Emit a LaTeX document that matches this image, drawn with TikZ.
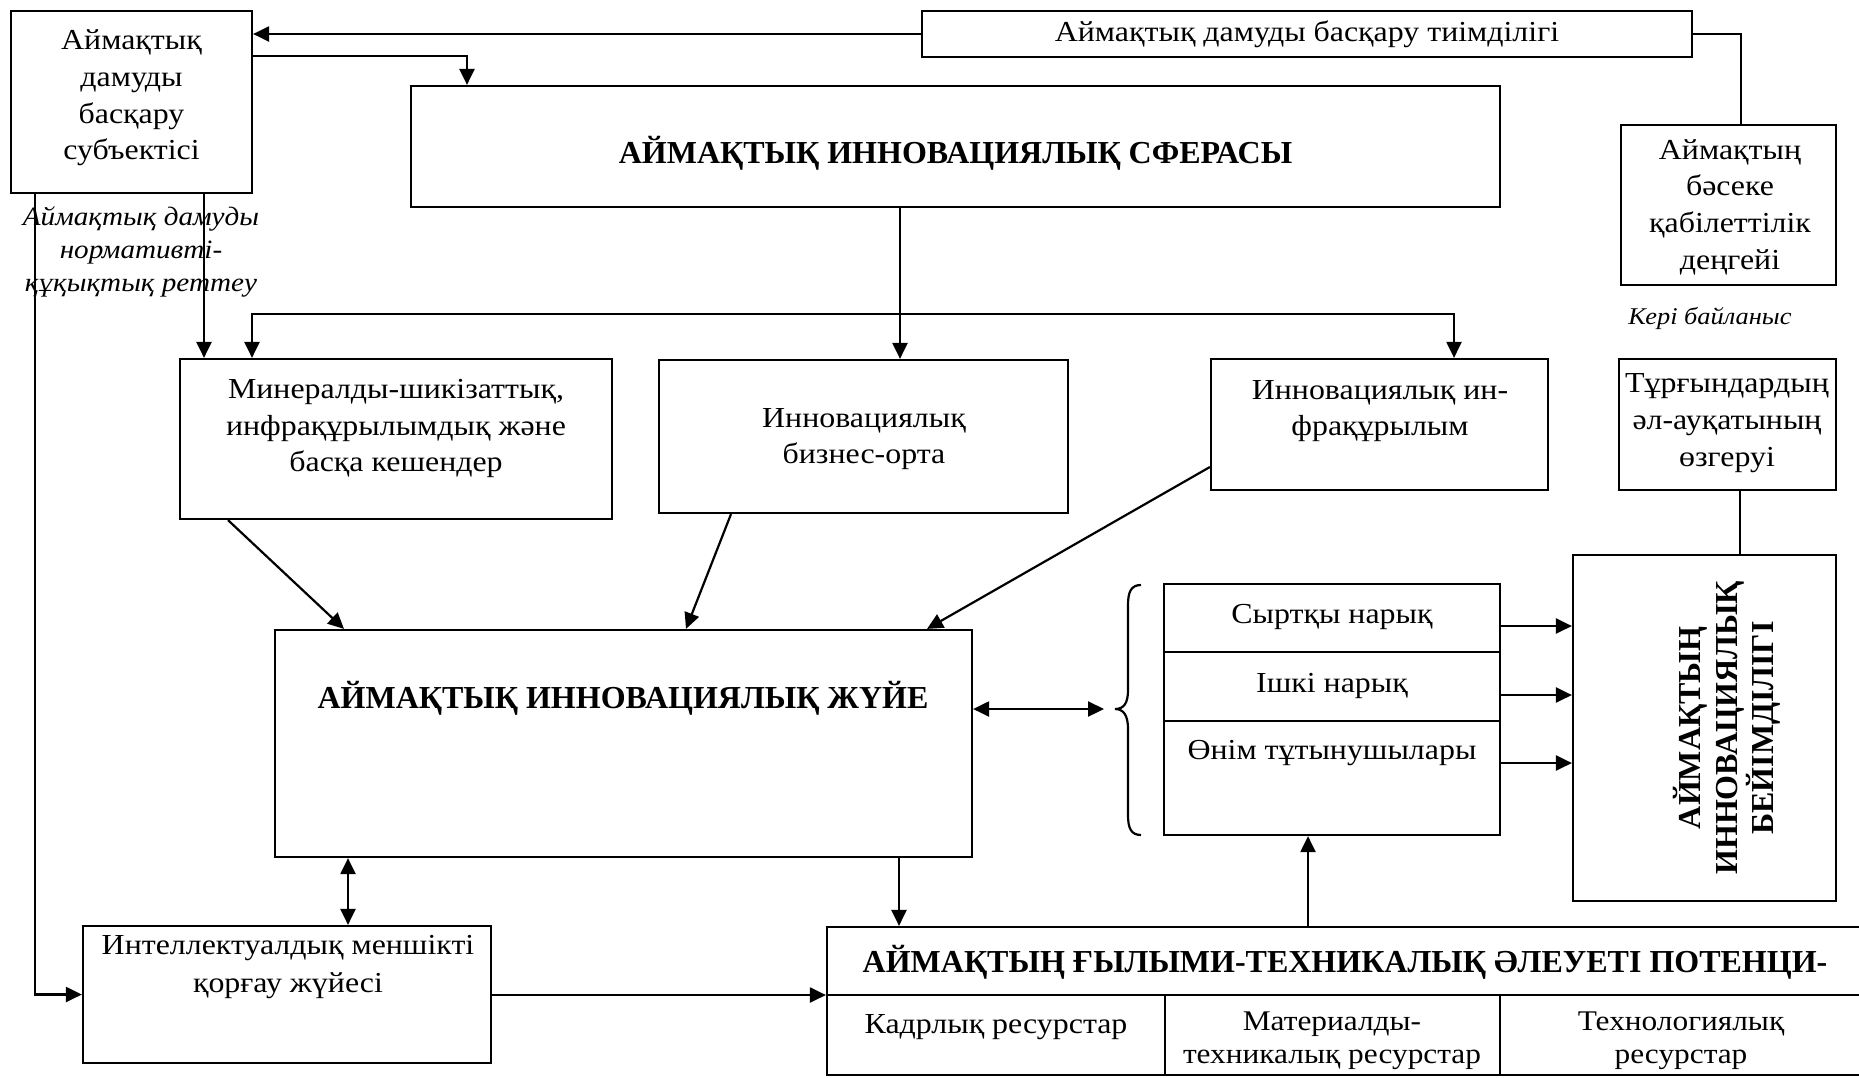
\documentclass[tikz,border=0pt]{standalone}
\usepackage{fontspec}
\setmainfont{Liberation Serif}[FakeStretch=1.1]
\newfontfamily\headf{Liberation Serif}[FakeStretch=1.0]
\usetikzlibrary{arrows.meta}
\tikzset{
  bx/.style={draw, line width=2.2pt, inner sep=0pt},
  con/.style={line width=2.2pt},
  tip/.tip={Triangle[length=16pt,width=15pt]},
  arr/.style={con, -tip},
  darr/.style={con, tip-tip},
  txt/.style={align=center, font=\fontsize{29}{36.7}\selectfont, inner sep=0pt},
  stxt/.style={align=center, font=\fontsize{28.5}{33}\selectfont, inner sep=0pt},
  htxt/.style={align=center, font=\headf\bfseries\fontsize{32}{36.7}\selectfont, inner sep=0pt},
  itxt/.style={align=center, font=\itshape\fontsize{26.5}{33}\selectfont, inner sep=0pt},
}
\begin{document}
\begin{tikzpicture}[x=1pt,y=-1pt]
\useasboundingbox[fill=white] (0,0) rectangle (1859,1077);
% boxes
\node[bx, minimum width=241pt, minimum height=182pt] (subj) at (131.5,102) {};
\node[bx, minimum width=770pt, minimum height=46pt] (eff) at (1307,34) {};
\node[bx, minimum width=1089pt, minimum height=121pt] (sphere) at (955.5,146.5) {};
\node[bx, minimum width=215pt, minimum height=160pt] (comp) at (1728.5,205) {};
\node[bx, minimum width=217pt, minimum height=131pt] (welf) at (1727.5,424.5) {};
\node[bx, minimum width=432pt, minimum height=160pt] (miner) at (396,439) {};
\node[bx, minimum width=409pt, minimum height=153pt] (bus) at (863.5,436.5) {};
\node[bx, minimum width=337pt, minimum height=131pt] (infra) at (1379.5,424.5) {};
\node[bx, minimum width=697pt, minimum height=227pt] (is) at (623.5,743.5) {};
\node[bx, minimum width=336pt, minimum height=251pt] (market) at (1332,709.5) {};
\node[bx, minimum width=263pt, minimum height=346pt] (ib) at (1704.5,728) {};
\node[bx, minimum width=408pt, minimum height=137pt] (ip) at (287,994.5) {};
\node[bx, minimum width=1040pt, minimum height=148pt] (pot) at (1347,1001) {};

% inner separators
\coordinate (h1) at (0,652);
\coordinate (h2) at (0,721);
\coordinate (h3) at (0,995);
\coordinate (v1) at (1165,0);
\coordinate (v2) at (1500,0);
\draw[con] (market.west |- h1) -- (market.east |- h1);
\draw[con] (market.west |- h2) -- (market.east |- h2);
\draw[con] (pot.west |- h3) -- (pot.east |- h3);
\draw[con] (v1 |- h3) -- (v1 |- pot.south);
\draw[con] (v2 |- h3) -- (v2 |- pot.south);

% texts
\node[txt] (t1) at (131.5,98) {Аймақтық\\дамуды\\басқару\\субъектісі};
\node[itxt] (t2) at (141,252) {Аймақтық дамуды\\нормативті-\\құқықтық реттеу};
\node[txt] (t3) at (1307,34) {Аймақтық дамуды басқару тиімділігі};
\node[htxt] (t4) at (955.5,153) {АЙМАҚТЫҚ ИННОВАЦИЯЛЫҚ СФЕРАСЫ};
\node[txt] (t5) at (1730,207) {Аймақтың\\бәсеке\\қабілеттілік\\деңгейі};
\node[itxt, font=\itshape\fontsize{24}{26}\selectfont] (t6) at (1710,318) {Кері байланыс};
\node[txt] (t7) at (1727,423) {Тұрғындардың\\әл-ауқатының\\өзгеруі};
\node[txt] (t8) at (396,428.5) {Минералды-шикізаттық,\\инфрақұрылымдық және\\басқа кешендер};
\node[txt] (t9) at (864,439) {Инновациялық\\бизнес-орта};
\node[txt] (t10) at (1380,411) {Инновациялық ин-\\фрақұрылым};
\node[htxt] (t11) at (623,698) {АЙМАҚТЫҚ ИННОВАЦИЯЛЫҚ ЖҮЙЕ};
\node[txt] (t12) at (1332,617) {Сыртқы нарық};
\node[txt] (t13) at (1332,686) {Ішкі нарық};
\node[txt] (t14) at (1332,753) {Өнім тұтынушылары};
\node[htxt, rotate=90] (t15) at (1727,728) {АЙМАҚТЫҢ\\ИННОВАЦИЯЛЫҚ\\БЕЙІМДІЛІГІ};
\node[txt, font=\fontsize{29}{38.5}\selectfont] (t16) at (288,967) {Интеллектуалдық меншікті\\қорғау жүйесі};
\node[htxt] (t17) at (1345,962) {АЙМАҚТЫҢ ҒЫЛЫМИ-ТЕХНИКАЛЫҚ ӘЛЕУЕТІ ПОТЕНЦИ-};
\node[txt] (t18) at (996,1027) {Кадрлық ресурстар};
\node[stxt] (t19) at (1332,1041) {Материалды-\\техникалық ресурстар};
\node[stxt] (t20) at (1681,1041) {Технологиялық\\ресурстар};

% brace
\coordinate (br) at (1104,709);
\draw[con] (1141,585) .. controls (1131,585) and (1128,592) .. (1128,605) -- (1128,690)
  .. controls (1128,703) and (1124,709) .. (1115,709)
  .. controls (1124,709) and (1128,716) .. (1128,729) -- (1128,815)
  .. controls (1128,828) and (1131,835) .. (1141,835);

% connectors
\draw[arr] (eff.west) -- (eff.west -| subj.east);
\coordinate (b1) at (467,56);
\draw[arr] (b1 -| subj.east) -- (b1) -- (b1 |- sphere.north);
\coordinate (b2) at (1741,34);
\draw[con] (eff.east) -- (b2) -- (b2 |- comp.north);
\coordinate (b3) at (35,994.5);
\draw[arr] (b3 |- subj.south) -- (b3) -- (ip.west);
\coordinate (b4) at (204,0);
\draw[arr] (b4 |- subj.south) -- (b4 |- miner.north);
\coordinate (b5) at (900,0);
\draw[arr] (b5 |- sphere.south) -- (b5 |- bus.north);
\coordinate (b6) at (252,314);
\coordinate (b7) at (1454,314);
\draw[darr] (b6 |- miner.north) -- (b6) -- (b7) -- (b7 |- infra.north);
\coordinate (m1) at (228,0);
\coordinate (m2) at (344,0);
\draw[arr] (m1 |- miner.south) -- (m2 |- is.north);
\coordinate (m3) at (731,0);
\coordinate (m4) at (686,0);
\draw[arr] (m3 |- bus.south) -- (m4 |- is.north);
\coordinate (m5) at (0,467);
\coordinate (m6) at (927,0);
\draw[arr] (infra.west |- m5) -- (m6 |- is.north);
\draw[darr] (br -| is.east) -- (br);
\coordinate (r1) at (0,626);
\coordinate (r2) at (0,695);
\coordinate (r3) at (0,763);
\draw[arr] (market.east |- r1) -- (ib.west |- r1);
\draw[arr] (market.east |- r2) -- (ib.west |- r2);
\draw[arr] (market.east |- r3) -- (ib.west |- r3);
\coordinate (w1) at (1740,0);
\draw[con] (w1 |- welf.south) -- (w1 |- ib.north);
\coordinate (q1) at (348,0);
\draw[darr] (q1 |- is.south) -- (q1 |- ip.north);
\coordinate (q2) at (899,0);
\draw[arr] (q2 |- is.south) -- (q2 |- pot.north);
\draw[arr] (ip.east |- h3) -- (pot.west |- h3);
\coordinate (q3) at (1308,0);
\draw[arr] (q3 |- pot.north) -- (q3 |- market.south);
\end{tikzpicture}
\end{document}
